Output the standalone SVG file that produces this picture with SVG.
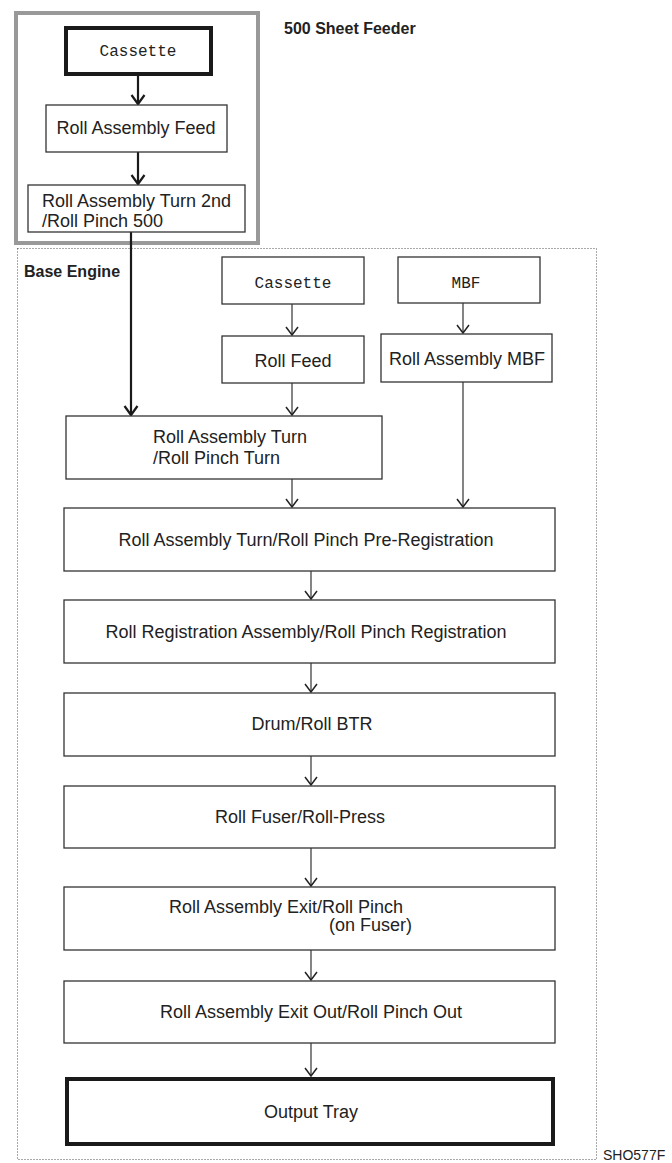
<svg xmlns="http://www.w3.org/2000/svg" width="672" height="1163" viewBox="0 0 672 1163">
<style>
.bx{fill:#fff;stroke:#333;stroke-width:1.3}
.tk{fill:#fff;stroke:#1a1a1a;stroke-width:4}
.t{font-family:"Liberation Sans",Arial,sans-serif;font-size:18px;fill:#222;text-anchor:middle}
.tl{font-family:"Liberation Sans",Arial,sans-serif;font-size:18px;fill:#222}
.m{font-family:"Liberation Mono","DejaVu Sans Mono",monospace;font-size:16px;fill:#222;text-anchor:middle}
.b{font-family:"Liberation Sans",Arial,sans-serif;font-size:16px;font-weight:bold;fill:#222}
.c{fill:none;stroke:#333;stroke-width:1.2}
.ck{fill:none;stroke:#1a1a1a;stroke-width:2.2}
</style>
<defs>
<marker id="ah" markerUnits="userSpaceOnUse" markerWidth="20" markerHeight="20" viewBox="-10 -10 20 20" refX="0" refY="0" orient="auto">
<path d="M-8,-6 L0,0 L-8,6" fill="none" stroke="#222" stroke-width="1.5"/>
</marker>
<marker id="ahk" markerUnits="userSpaceOnUse" markerWidth="20" markerHeight="20" viewBox="-10 -10 20 20" refX="0" refY="0" orient="auto">
<path d="M-9,-6.5 L0,0 L-9,6.5" fill="none" stroke="#1a1a1a" stroke-width="2.2"/>
</marker>
</defs>
<rect width="672" height="1163" fill="#fff"/>

<g id="base-engine-frame">
<rect x="17.5" y="248.5" width="579" height="911" fill="none" stroke="#555" stroke-width="1" stroke-dasharray="1,2"/>
<text class="b" x="24" y="277">Base Engine</text>
</g>
<g id="sheet-feeder-frame">
<rect x="16" y="13" width="242" height="230" fill="none" stroke="#999" stroke-width="4"/>
<text class="b" x="284" y="34">500 Sheet Feeder</text>
</g>

<g id="connectors">
<line class="ck" x1="138" y1="74" x2="138" y2="104" marker-end="url(#ahk)"/>
<line class="ck" x1="138" y1="152" x2="138" y2="184" marker-end="url(#ahk)"/>
<line class="ck" x1="131" y1="232" x2="131" y2="415" marker-end="url(#ahk)"/>
<line class="c" x1="292" y1="304" x2="292" y2="335" marker-end="url(#ah)"/>
<line class="c" x1="292" y1="383" x2="292" y2="415" marker-end="url(#ah)"/>
<line class="c" x1="463" y1="303" x2="463" y2="333" marker-end="url(#ah)"/>
<line class="c" x1="463" y1="382" x2="463" y2="507" marker-end="url(#ah)"/>
<line class="c" x1="292" y1="479" x2="292" y2="507" marker-end="url(#ah)"/>
<line class="c" x1="311" y1="571" x2="311" y2="599" marker-end="url(#ah)"/>
<line class="c" x1="311" y1="663" x2="311" y2="692" marker-end="url(#ah)"/>
<line class="c" x1="311" y1="756" x2="311" y2="785" marker-end="url(#ah)"/>
<line class="c" x1="311" y1="848" x2="311" y2="886" marker-end="url(#ah)"/>
<line class="c" x1="311" y1="950" x2="311" y2="980" marker-end="url(#ah)"/>
<line class="c" x1="311" y1="1043" x2="311" y2="1076" marker-end="url(#ah)"/>
</g>

<g id="cassette-500">
<rect class="tk" x="66" y="28" width="145" height="46"/>
<text class="m" x="138" y="56">Cassette</text>
</g>
<g id="roll-assembly-feed">
<rect class="bx" x="46" y="105" width="181" height="47"/>
<text class="t" x="136" y="134">Roll Assembly Feed</text>
</g>
<g id="roll-assembly-turn-2nd">
<rect class="bx" x="28" y="185" width="217" height="47"/>
<text class="tl" x="42" y="207">Roll Assembly Turn 2nd</text>
<text class="tl" x="42" y="227">/Roll Pinch 500</text>
</g>

<g id="cassette">
<rect class="bx" x="222" y="257" width="142" height="47"/>
<text class="m" x="293" y="288">Cassette</text>
</g>
<g id="roll-feed">
<rect class="bx" x="222" y="336" width="142" height="47"/>
<text class="t" x="293" y="367">Roll Feed</text>
</g>
<g id="mbf">
<rect class="bx" x="398" y="257" width="142" height="46"/>
<text class="m" x="466" y="288">MBF</text>
</g>
<g id="roll-assembly-mbf">
<rect class="bx" x="381" y="334" width="171" height="48"/>
<text class="t" x="467" y="365">Roll Assembly MBF</text>
</g>
<g id="roll-assembly-turn">
<rect class="bx" x="66" y="416" width="316" height="63"/>
<text class="tl" x="153" y="443">Roll Assembly Turn</text>
<text class="tl" x="153" y="464">/Roll Pinch Turn</text>
</g>
<g id="pre-registration">
<rect class="bx" x="64" y="508" width="491" height="63"/>
<text class="t" x="306" y="546">Roll Assembly Turn/Roll Pinch Pre-Registration</text>
</g>
<g id="registration">
<rect class="bx" x="64" y="600" width="491" height="63"/>
<text class="t" x="306" y="638">Roll Registration Assembly/Roll Pinch Registration</text>
</g>
<g id="drum-btr">
<rect class="bx" x="64" y="693" width="491" height="63"/>
<text class="t" x="312" y="730">Drum/Roll BTR</text>
</g>
<g id="fuser">
<rect class="bx" x="64" y="786" width="491" height="62"/>
<text class="t" x="300" y="823">Roll Fuser/Roll-Press</text>
</g>
<g id="exit">
<rect class="bx" x="64" y="887" width="491" height="63"/>
<text class="t" x="286" y="913">Roll Assembly Exit/Roll Pinch</text>
<text class="tl" x="412" y="931" text-anchor="end">(on Fuser)</text>
</g>
<g id="exit-out">
<rect class="bx" x="64" y="981" width="491" height="62"/>
<text class="t" x="311" y="1018">Roll Assembly Exit Out/Roll Pinch Out</text>
</g>
<g id="output-tray">
<rect class="tk" x="67" y="1079" width="486" height="65"/>
<text class="t" x="311" y="1118">Output Tray</text>
</g>
<text x="603" y="1160" font-family="Liberation Sans, Arial, sans-serif" font-size="14" fill="#222">SHO577F</text>
</svg>
